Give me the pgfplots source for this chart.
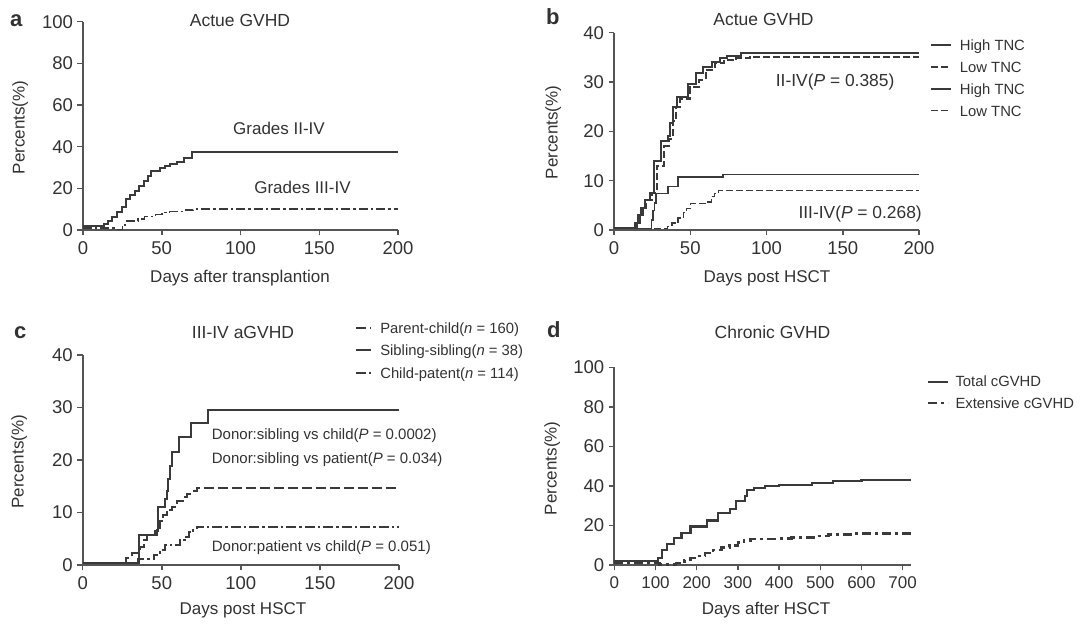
\documentclass[border=0pt]{standalone}
\usepackage{fontspec}
\setmainfont{Liberation Sans}
\usepackage{pgfplots}
\pgfplotsset{compat=1.18}
\definecolor{txt}{RGB}{50,50,50}
\definecolor{ln}{RGB}{58,58,58}
\definecolor{ax}{RGB}{85,85,85}
\newcommand{\fs}[1]{\fontsize{#1}{#1}\selectfont}
\pgfplotsset{
 panel/.style={
  scale only axis, axis lines=left, axis line style={-, ax, line width=1.8pt},
  tick align=outside, major tick length=5.5pt, tick style={ax, line width=1.5pt},
  xmin=0, ymin=0, clip=false,
  ticklabel style={font=\fs{18.5}, text=txt},
  xticklabel style={yshift=-3pt},
  yticklabel style={xshift=-1pt},
  /pgf/number format/assume math mode=true,
  every axis plot/.append style={ln, line width=2pt, const plot, mark=none},
  legend style={draw=none, fill=none, inner sep=0pt, outer sep=0pt,
    font=\fs{14.8}, text=txt, cells={anchor=west},
    nodes={inner sep=0pt, text height=11pt, text depth=0.4pt}},
 },
}
\begin{document}
\begin{tikzpicture}[x=1pt,y=1pt]
\useasboundingbox (0,0) rectangle (1080,628);
% ---------- panel a
\begin{axis}[panel, at={(83pt,398pt)}, anchor=south west, width=315pt, height=208.3pt,
  xmax=200, ymax=100, xtick={0,50,100,150,200}, ytick={0,20,40,60,80,100}]
\addplot[solid] coordinates {(0,2) (13.5,3) (16,4.5) (18.5,6.4) (21.5,8.8) (24.5,10.9) (27,14.7) (30,16.8) (33,18.9) (35.5,21.2) (38.5,23.7) (41,26) (43,28.5) (49,29.6) (52,30.8) (55.5,31.7) (59.5,32.8) (64,34.4) (69,37.5) (200,37.5)};
\addplot[line width=1.6pt, dash pattern=on 9pt off 3pt on 2.5pt off 3pt] coordinates {(0,1) (20,0.3) (25,2.5) (27,4.3) (35,5.2) (39,6.4) (46,7.5) (50,8.4) (55,8.8) (63,9.6) (70,10) (200,10)};
\end{axis}
% ---------- panel b
\begin{axis}[panel, at={(614pt,398pt)}, anchor=south west, width=305pt, height=197.3pt,
  xmax=200, ymax=40, xtick={0,50,100,150,200}, ytick={0,10,20,30,40},
  legend style={at={(axis description cs:1.036,0.9665)}, anchor=north west, row sep=10.5pt,
    /tikz/every odd column/.append style={column sep=8pt}},
  legend image code/.code={\draw[#1] (0pt,0pt) -- (20pt,0pt);}]
\addplot[solid] coordinates {(0,0.5) (14,1.5) (16,3) (18,4.5) (20,6) (23.5,7.5) (26.5,14) (31,18) (35.5,19) (37,21.6) (39,25) (41,27) (48.5,29.5) (54,31.8) (58.5,33) (64,34.1) (69.5,34.8) (74,35.3) (83,35.9) (200,35.9)};
\addlegendentry{High TNC}
\addplot[dash pattern=on 7pt off 3pt] coordinates {(0,0.5) (15,1.5) (17,3) (19,4.5) (21,6) (25,7.5) (28,13) (33,17) (36,18.5) (38.5,22) (40.5,25) (43,26.5) (50,29) (56,30.5) (60,32.5) (66,33.8) (72,34.4) (80,34.8) (89,35.1) (200,35.1)};
\addlegendentry{Low TNC}
\addplot[line width=1.5pt] coordinates {(0,0.3) (24.5,2) (25.5,4) (26.5,5.5) (27.5,7.4) (35.5,8.8) (42,10.7) (71.5,11.2) (200,11.2)};
\addlegendentry{High TNC}
\addplot[line width=1.5pt, dash pattern=on 7pt off 3pt] coordinates {(0,0.3) (35,0.7) (38,1.4) (42,2.4) (45.5,3.5) (47.5,4.4) (50,5.4) (61,5.7) (64,6.8) (66,7.4) (68.5,8) (200,8)};
\addlegendentry{Low TNC}
\end{axis}
% ---------- panel c
\begin{axis}[panel, at={(82.7pt,63pt)}, anchor=south west, width=316.3pt, height=210pt,
  xmax=200, ymax=40, xtick={0,50,100,150,200}, ytick={0,10,20,30,40},
  legend style={at={(axis description cs:0.861,1.1557)}, anchor=north west, row sep=11.1pt,
    /tikz/every odd column/.append style={column sep=8.3pt}},
  legend image code/.code={\draw[#1] (0pt,0pt) -- (15pt,0pt);}]
\addplot[dash pattern=on 10pt off 4pt] coordinates {(0,0.3) (27.5,1.3) (31,2.2) (36,3.5) (38.5,4.8) (40.5,5.7) (47,6.7) (49,8.3) (51,9.5) (53,10.5) (56.5,11.1) (59.5,12.1) (63.5,13) (66,13.5) (69,14) (72,14.6) (200,14.6)};
\addlegendentry{Parent-child(\textit{n} = 160)}
\addplot[solid] coordinates {(0,0.3) (35.5,5.8) (45.5,6.5) (47.5,11.1) (52,12.5) (53,14) (54,16.3) (55.5,18.9) (56.5,21.6) (61,24.3) (68.5,27) (79,29.5) (200,29.5)};
\addlegendentry{Sibling-sibling(\textit{n} = 38)}
\addplot[dash pattern=on 10pt off 3pt on 2.5pt off 3pt] coordinates {(0,0.3) (35,1.1) (45,1.9) (49,2.9) (52,3.8) (61.5,4.8) (64.5,5.4) (67,6.3) (70,7) (72,7.3) (200,7.3)};
\addlegendentry{Child-patent(\textit{n} = 114)}
\end{axis}
% ---------- panel d
\begin{axis}[panel, at={(614.3pt,63pt)}, anchor=south west, width=296.6pt, height=197.5pt,
  xmax=720, ymax=100, xtick={0,100,200,300,400,500,600,700}, ytick={0,20,40,60,80,100},
  xticklabel style={font=\fs{17}},
  legend style={at={(axis description cs:1.054,0.957)}, anchor=north west, row sep=9.9pt,
    /tikz/every odd column/.append style={column sep=6pt}},
  legend image code/.code={\draw[#1] (0pt,0pt) -- (20pt,0pt);}]
\addplot[line width=2.2pt] coordinates {(0,2) (107,3.5) (115,7.5) (127,10.5) (145,13.5) (163,16) (185,19.5) (225,22.5) (252,26.5) (280,28.5) (295,32.5) (317,35) (322,38) (340,39) (365,39.8) (400,40.6) (480,41.5) (530,42.4) (600,43) (720,43)};
\addlegendentry{Total cGVHD}
\addplot[line width=2.6pt, dash pattern=on 9pt off 4pt on 3pt off 4pt] coordinates {(0,1) (110,0.3) (150,1) (170,2.5) (185,3.5) (200,4.5) (220,6) (240,7.5) (260,8.8) (280,10) (300,11.3) (315,12.3) (330,13.2) (400,13.5) (430,14) (490,14.6) (520,15.3) (580,15.8) (720,15.8)};
\addlegendentry{Extensive cGVHD}
\end{axis}
% ---------- texts
\begin{scope}[every node/.style={text=txt, inner sep=0pt}]
\node[anchor=base west, font=\fs{22}\bfseries] at (10pt,601.3pt) {a};
\node[anchor=base west, font=\fs{22}\bfseries] at (546pt,603pt) {b};
\node[anchor=base west, font=\fs{22}\bfseries] at (14pt,289.7pt) {c};
\node[anchor=base west, font=\fs{22}\bfseries] at (547pt,290pt) {d};
\node[anchor=base, font=\fs{17.5}] at (240pt,601.3pt) {Actue GVHD};
\node[anchor=base, font=\fs{17.5}] at (763.5pt,602pt) {Actue GVHD};
\node[anchor=base, font=\fs{17.5}] at (243pt,289.7pt) {III-IV aGVHD};
\node[anchor=base, font=\fs{17.5}] at (772.5pt,289.7pt) {Chronic GVHD};
\node[anchor=base, font=\fs{17}] at (240pt,345.3pt) {Days after transplantion};
\node[anchor=base, font=\fs{17}] at (767pt,345.3pt) {Days post HSCT};
\node[anchor=base, font=\fs{17}] at (243pt,13pt) {Days post HSCT};
\node[anchor=base, font=\fs{17}] at (766pt,13pt) {Days after HSCT};
\node[anchor=base, rotate=90, font=\fs{17}] at (24.5pt,500.5pt) {Percents(\%)};
\node[anchor=base, rotate=90, font=\fs{17}] at (557.5pt,495.5pt) {Percents(\%)};
\node[anchor=base, rotate=90, font=\fs{17}] at (23.5pt,166.3pt) {Percents(\%)};
\node[anchor=base, rotate=90, font=\fs{17}] at (556.5pt,159.7pt) {Percents(\%)};
\node[anchor=base, font=\fs{17}] at (279pt,493pt) {Grades II-IV};
\node[anchor=base, font=\fs{17}] at (302.5pt,434.7pt) {Grades III-IV};
\node[anchor=base west, font=\fs{17.4}] at (775.7pt,541.3pt) {II-IV(\textit{P} = 0.385)};
\node[anchor=base west, font=\fs{17.4}] at (798.3pt,409.7pt) {III-IV(\textit{P} = 0.268)};
\node[anchor=base west, font=\fs{15}] at (211.7pt,188pt) {Donor:sibling vs child(\textit{P} = 0.0002)};
\node[anchor=base west, font=\fs{15}] at (211.7pt,164pt) {Donor:sibling vs patient(\textit{P} = 0.034)};
\node[anchor=base west, font=\fs{15}] at (211.7pt,76.3pt) {Donor:patient vs child(\textit{P} = 0.051)};
\end{scope}
\end{tikzpicture}
\end{document}
